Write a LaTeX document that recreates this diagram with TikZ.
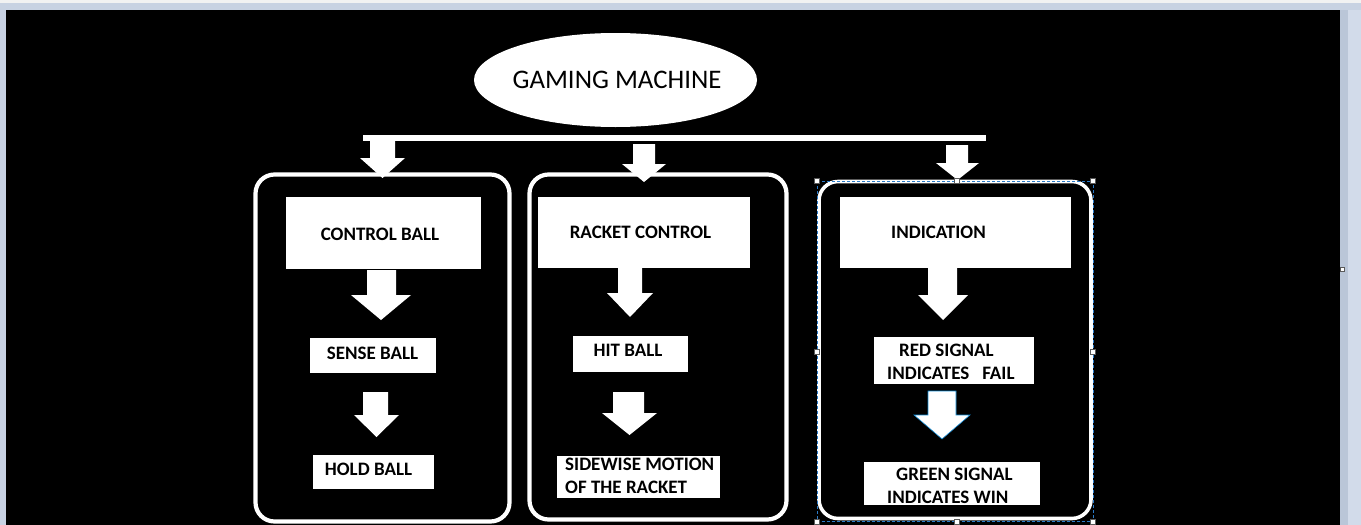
\documentclass[tikz,border=0pt]{standalone}
\usepackage{fontspec}
\setmainfont{Carlito}
\usetikzlibrary{shapes.geometric,fit}
\definecolor{framegray}{HTML}{C8D2E2}
\definecolor{framelight}{HTML}{F2F2F2}
\definecolor{frameright}{HTML}{D2DBEA}
\definecolor{framedark}{HTML}{BAC6D8}
\definecolor{selblue}{HTML}{2A7BC8}
\definecolor{handlegray}{HTML}{5A5A5A}
\newcommand\blockarrow[8]{%
  \fill[white,#8] (#1,#3) -- (#2,#3) -- (#2,#4) -- (#6,#4) -- (#5,#7) -- (#6*0+2*#5-#6,#4) -- (#1,#4) -- cycle;}
\tikzset{
  box/.style={rectangle, fill=white, draw=none, inner sep=0pt},
  lbl/.style={inner sep=0pt, text=black, font=\fontsize{19}{23}\bfseries\selectfont},
  panel/.style={draw=white, line width=4.2pt, rounded corners=19pt},
  handle/.style={draw=handlegray, fill=white, line width=0.6pt, minimum size=5pt, inner sep=0pt, rectangle},
}
\begin{document}
\begin{tikzpicture}[x=1pt,y=-1pt]
\useasboundingbox (0,0) rectangle (1361,525);
% window frame
\fill[framegray] (0,0) rectangle (1361,525);
\fill[framelight] (0,0) rectangle (1361,3);
\fill[frameright] (1348,10) rectangle (1361,525);
\fill[framedark] (1340,10) rectangle (1348,525);
\fill[black] (6,10) rectangle (1340,525);
\node[handle, minimum size=4pt] (pagehandle) at (1342,269) {};

% title
\node[ellipse, fill=white, minimum width=283pt, minimum height=94pt, inner sep=0pt] (gm) at (615.5,80) {};
\node[inner sep=0pt, font=\fontsize{26.8}{30}\selectfont, text=black] (gmt) at (617,80) {GAMING MACHINE};

% bar
\node[box, fit={(363,135) (986,141)}] (bar) {};

% top arrows
\blockarrow{370}{395}{140}{158}{382.5}{405}{178}{}
\blockarrow{633}{655}{144}{164}{644}{666}{182}{}
\blockarrow{946}{968}{145}{163}{957.5}{979}{180}{}

% panels
\draw[panel] (255.5,174.5) rectangle (509.5,521.5);
\draw[panel] (529.5,174.5) rectangle (786.5,519.5);
\draw[panel, line width=3.6pt] (819,181.5) rectangle (1091,518.5);
% selection outline on third panel
\draw[selblue, dashed, line width=0.7pt, dash pattern=on 3pt off 2pt] (817,181) rectangle (1093,521.5);
\foreach \hx/\hy/\hn in {817/181/h1, 957/181/h2, 1093/181/h3, 817/352/h4, 1093/352/h5, 817/521.5/h6, 957/521.5/h7, 1093/521.5/h8}
  \node[handle] (\hn) at (\hx,\hy) {};

% column 1
\node[box, fit={(286,197) (481,269)}] (cb) {};
\node[lbl] (cbt) at (380,234) {CONTROL BALL};
\blockarrow{367}{396}{270}{295}{381}{411}{320}{}
\node[box, fit={(310,338) (436,373)}] (sb) {};
\node[lbl] (sbt) at (372.5,353) {SENSE BALL};
\blockarrow{363}{388}{392}{415}{376.5}{399}{437}{}
\node[box, fit={(313,455) (434,489)}] (hb) {};
\node[lbl] (hbt) at (368.5,469) {HOLD BALL};

% column 2
\node[box, fit={(538,197) (750,268)}] (rc) {};
\node[lbl] (rct) at (640.5,232) {RACKET CONTROL};
\blockarrow{618}{642}{268}{293}{630}{653}{317}{}
\node[box, fit={(573,336) (688,372)}] (hib) {};
\node[lbl] (hibt) at (628,350) {HIT BALL};
\blockarrow{613}{644}{392}{413}{629.5}{657}{435}{}
\node[box, fit={(557,456) (720,498)}] (sw) {};
\node[lbl, anchor=west, align=left] (swt) at (565,475.5) {SIDEWISE MOTION\\OF THE RACKET};

% column 3
\node[box, fit={(840,197) (1071,268)}] (ind) {};
\node[lbl] (indt) at (938.5,232) {INDICATION};
\blockarrow{928}{957}{268}{295}{943}{968}{320}{}
\node[box, fit={(874,337) (1034,384)}] (rs) {};
\node[lbl, anchor=west, align=left] (rst) at (887,362) {\hspace{12pt}RED SIGNAL\\INDICATES\ \ \ FAIL};
\blockarrow{928}{956}{391}{415}{942}{970}{439}{draw=cyan!70!blue, line width=0.6pt}
\node[box, fit={(864,462) (1040,505)}] (gs) {};
\node[lbl, anchor=west, align=left] (gst) at (887,485.5) {\hspace{9pt}GREEN SIGNAL\\INDICATES WIN};
\end{tikzpicture}
\end{document}
